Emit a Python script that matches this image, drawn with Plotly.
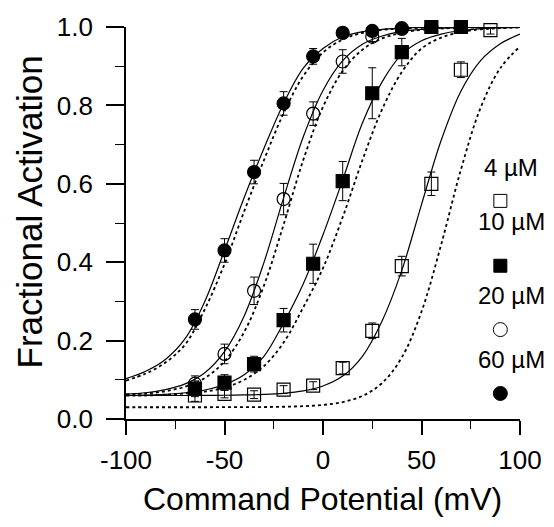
import plotly.graph_objects as go

# ---- measured data points ----
x60 = [-65, -50, -35, -20, -5, 10, 25, 40, 55, 70]
y60 = [0.254, 0.43, 0.63, 0.805, 0.925, 0.985, 0.99, 0.997, 1.0, 1.0]
e60 = [0.025, 0.03, 0.03, 0.03, 0.02, 0.01, 0.01, 0.008, 0.005, 0.005]

x20 = [-65, -50, -35, -20, -5, 10, 25, 40, 55]
y20 = [0.09, 0.166, 0.327, 0.561, 0.779, 0.912, 0.975, 0.995, 1.0]
e20 = [0.02, 0.025, 0.035, 0.04, 0.03, 0.03, 0.012, 0.008, 0.005]

x10 = [-65, -50, -35, -20, -5, 10, 25, 40, 55, 70]
y10 = [0.077, 0.093, 0.14, 0.252, 0.396, 0.607, 0.831, 0.936, 1.0, 1.0]
e10 = [0.02, 0.02, 0.02, 0.03, 0.05, 0.05, 0.065, 0.035, 0.01, 0.01]

x4 = [-65, -50, -35, -20, -5, 10, 25, 40, 55, 70, 85]
y4 = [0.06, 0.064, 0.062, 0.075, 0.085, 0.13, 0.225, 0.39, 0.60, 0.891, 0.992]
e4 = [0.015, 0.01, 0.01, 0.01, 0.01, 0.015, 0.02, 0.025, 0.03, 0.02, 0.01]

# ---- fitted curves, every 10 mV ----
xfit = [-100, -90, -80, -70, -60, -50, -40, -30, -20, -10, 0,
        10, 20, 30, 40, 50, 60, 70, 80, 90, 100]

fit60 = [0.103, 0.122, 0.152, 0.205, 0.30, 0.43, 0.565, 0.69, 0.805, 0.895, 0.945,
         0.975, 0.988, 0.994, 0.997, 0.999, 1.0, 1.0, 1.0, 1.0, 1.0]
fit60d = [0.098, 0.116, 0.144, 0.19, 0.28, 0.395, 0.53, 0.66, 0.78, 0.875, 0.935,
          0.968, 0.985, 0.993, 0.996, 0.998, 0.999, 1.0, 1.0, 1.0, 1.0]

fit20 = [0.0636, 0.067, 0.075, 0.0895, 0.118, 0.172, 0.263, 0.399, 0.564, 0.72, 0.838,
         0.914, 0.956, 0.977, 0.989, 0.994, 0.997, 0.9985, 0.999, 1.0, 1.0]
fit20d = [0.063, 0.065, 0.071, 0.0825, 0.1046, 0.147, 0.222, 0.34, 0.496, 0.661, 0.796,
          0.888, 0.942, 0.971, 0.985, 0.993, 0.996, 0.998, 0.999, 1.0, 1.0]

fit10 = [0.060, 0.061, 0.063, 0.067, 0.074, 0.088, 0.113, 0.16, 0.245, 0.345, 0.47,
         0.61, 0.755, 0.86, 0.93, 0.965, 0.982, 0.991, 0.996, 0.998, 0.999]
fit10d = [0.060, 0.060, 0.062, 0.065, 0.07, 0.08, 0.10, 0.135, 0.195, 0.285, 0.385,
          0.515, 0.66, 0.79, 0.885, 0.945, 0.973, 0.987, 0.994, 0.997, 0.999]

fit4 = [0.06, 0.06, 0.06, 0.06, 0.0603, 0.0606, 0.0613, 0.0627, 0.0656, 0.0718, 0.0843,
        0.1095, 0.16, 0.25, 0.379, 0.547, 0.711, 0.836, 0.914, 0.957, 0.982]
fit4d = [0.03, 0.03, 0.03, 0.03, 0.03, 0.0301, 0.0302, 0.0305, 0.0312, 0.0327, 0.0359,
         0.0431, 0.0587, 0.0917, 0.157, 0.274, 0.445, 0.636, 0.794, 0.895, 0.95]

legend_labels = ["4 \u00b5M", "10 \u00b5M", "20 \u00b5M", "60 \u00b5M"]

x_ticks = [-100, -50, 0, 50, 100]
x_ticktext = ["-100", "-50", "0", "50", "100"]
y_ticks = [0.0, 0.2, 0.4, 0.6, 0.8, 1.0]
y_ticktext = ["0.0", "0.2", "0.4", "0.6", "0.8", "1.0"]

FONT = "Liberation Sans, Arial, Helvetica, sans-serif"

fig = go.Figure()

# fit lines
for yy, dash in [(fit4, "solid"), (fit4d, "dot"), (fit10, "solid"), (fit10d, "dot"),
                 (fit20, "solid"), (fit20d, "dot"), (fit60, "solid"), (fit60d, "dot")]:
    fig.add_trace(go.Scatter(
        x=xfit, y=yy, mode="lines", line_shape="spline",
        line=dict(color="black", width=1.2 if dash == "solid" else 1.8, dash=dash),
        hoverinfo="skip", showlegend=False))

def pts(x, y, e, symbol, name):
    fig.add_trace(go.Scatter(
        x=x, y=y, mode="markers", name=name, cliponaxis=False,
        marker=dict(symbol=symbol, size=13, color="black",
                    line=dict(color="black", width=1.2)),
        error_y=dict(type="data", array=e, visible=True, color="black",
                     thickness=1, width=4),
        showlegend=False))

pts(x4, y4, e4, "square-open", legend_labels[0])
pts(x10, y10, e10, "square", legend_labels[1])
pts(x20, y20, e20, "circle-open", legend_labels[2])
pts(x60, y60, e60, "circle", legend_labels[3])

# legend (label above its symbol)
L, R, T, B = 126, 27, 20, 108
W, H = 554, 527
pw, ph = W - L - R, H - T - B

def px(xp):
    return (xp - L) / pw

def py(yp):
    return (H - B - yp) / ph

label_y = [163, 218, 293, 358]
sym_y = [197, 263, 328, 393]
sym_kind = [("rect", False), ("rect", True), ("circle", False), ("circle", True)]
annotations = []
shapes = []
for lab, ly, sy, (kind, filled) in zip(legend_labels, label_y, sym_y, sym_kind):
    annotations.append(dict(x=px(518), y=py(ly), xref="paper", yref="paper",
                            text=lab, showarrow=False,
                            font=dict(family=FONT, size=24, color="black"),
                            xanchor="center", yanchor="middle"))
    s = 14 if kind == "circle" else 13
    shapes.append(dict(type=kind, xref="paper", yref="paper",
                       xsizemode="pixel", ysizemode="pixel",
                       xanchor=px(507), yanchor=py(sy),
                       x0=-s / 2, x1=s / 2, y0=-s / 2, y1=s / 2,
                       line=dict(color="black", width=1),
                       fillcolor="black" if filled else "white"))

annotations.append(dict(x=px(326), y=py(500), xref="paper", yref="paper",
                        text="Command Potential (mV)", showarrow=False,
                        font=dict(family=FONT, size=32, color="black"),
                        xanchor="center", yanchor="middle"))
annotations.append(dict(x=px(28), y=py(208), xref="paper", yref="paper",
                        text="Fractional Activation", showarrow=False, textangle=-90,
                        font=dict(family=FONT, size=35, color="black"),
                        xanchor="center", yanchor="middle"))

fig.update_layout(
    width=W, height=H,
    margin=dict(l=L, r=R, t=T, b=B, pad=0),
    paper_bgcolor="white", plot_bgcolor="white",
    font=dict(family=FONT, color="black"),
    annotations=annotations, shapes=shapes,
    xaxis=dict(range=[-100, 100], tickvals=x_ticks, ticktext=x_ticktext,
               ticks="outside", ticklen=14, ticklabelstandoff=3,
               tickwidth=1.5, tickcolor="black", showline=True, linewidth=1.6,
               linecolor="black", showgrid=False, zeroline=False,
               tickfont=dict(family=FONT, size=26, color="black"),
               minor=dict(dtick=25, tick0=-100, ticks="outside", ticklen=8,
                          tickwidth=1.2, tickcolor="black", showgrid=False)),
    yaxis=dict(range=[0, 1], tickvals=y_ticks, ticktext=y_ticktext,
               ticks="outside", ticklen=18, ticklabelstandoff=8,
               tickwidth=1.5, tickcolor="black", showline=True,
               linewidth=1.6, linecolor="black", showgrid=False, zeroline=False,
               tickfont=dict(family=FONT, size=26, color="black"),
               minor=dict(dtick=0.1, tick0=0, ticks="outside", ticklen=9,
                          tickwidth=1.2, tickcolor="black", showgrid=False)),
)

fig.write_html("out.html")
